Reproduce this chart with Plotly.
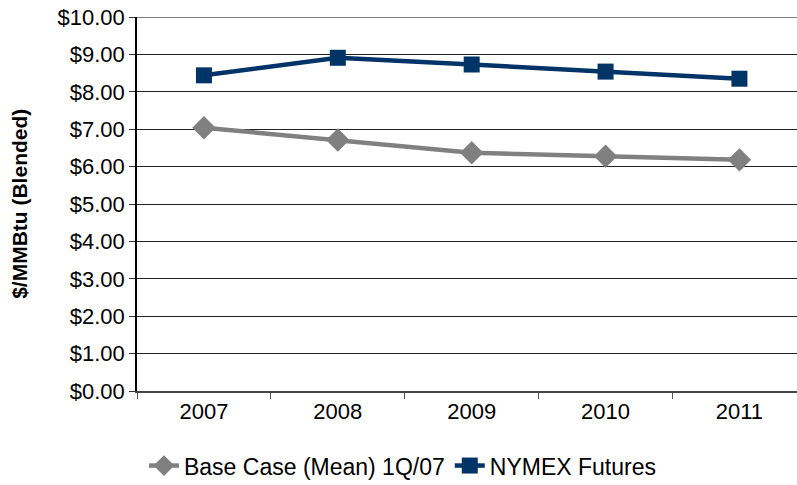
import plotly.graph_objects as go

years = ["2007", "2008", "2009", "2010", "2011"]
base_case = [7.04, 6.71, 6.37, 6.28, 6.18]
nymex = [8.44, 8.91, 8.73, 8.54, 8.35]
y_ticks = [0, 1, 2, 3, 4, 5, 6, 7, 8, 9, 10]
y_tick_labels = ["$%.2f" % v for v in y_ticks]

FONT = "Liberation Sans, Arial, sans-serif"

fig = go.Figure()
fig.add_trace(go.Scatter(
    x=years, y=base_case, mode="lines+markers", name="Base Case (Mean) 1Q/07",
    line=dict(color="#808080", width=4.5),
    marker=dict(symbol="diamond", size=18, color="#808080"),
))
fig.add_trace(go.Scatter(
    x=years, y=nymex, mode="lines+markers", name="NYMEX Futures",
    line=dict(color="#003366", width=4.5),
    marker=dict(symbol="square", size=16, color="#003366"),
))

fig.update_layout(
    width=797, height=485,
    margin=dict(l=137, r=0, t=17, b=94, autoexpand=False),
    paper_bgcolor="white", plot_bgcolor="white",
    font=dict(family=FONT, size=22, color="black"),
    showlegend=True,
    legend=dict(orientation="h", xref="container", x=0.505, xanchor="center",
                yref="container", y=0.04, yanchor="middle",
                font=dict(size=23), tracegroupgap=0),
    xaxis=dict(
        type="category", range=[-0.5, 4.43], automargin=False,
        tickson="boundaries", ticks="outside", ticklen=6, tickcolor="#555555",
        showgrid=False, showline=True, linecolor="#444444", linewidth=2,
        tickfont=dict(size=22), zeroline=False,
    ),
    yaxis=dict(
        range=[0, 10], tickvals=y_ticks, ticktext=y_tick_labels, automargin=False,
        ticks="outside", ticklen=6, tickcolor="#333333",
        showline=True, linecolor="black", linewidth=1.5,
        showgrid=True, gridcolor="#222222", gridwidth=1,
        zeroline=False, tickfont=dict(size=22),
    ),
    shapes=[dict(
        type="line", xref="paper", x0=0, x1=1, yref="y", y0=y_ticks[-1], y1=y_ticks[-1],
        line=dict(color="#808080", width=2), layer="above",
    )],
    annotations=[dict(
        text="<b>$/MMBtu (Blended)</b>", textangle=-90,
        xref="paper", yref="paper", x=-0.179, y=0.5,
        xanchor="center", yanchor="middle", showarrow=False,
        font=dict(size=21, family=FONT, color="black"),
    )],
)

fig.write_html("out.html", config={"displayModeBar": False},
               post_script="document.body.style.margin='0';")
